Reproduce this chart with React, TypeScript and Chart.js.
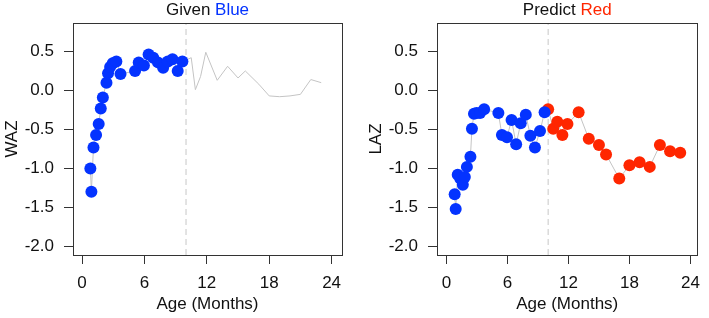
import React, { useEffect, useRef } from "react";
import { Chart, registerables } from "chart.js";

Chart.register(...registerables);

// ---- data ----
const blueMonths = [0.8, 0.9, 1.1, 1.35, 1.6, 1.8, 2.0, 2.35, 2.5, 2.7, 2.95, 3.3, 3.7, 5.1, 5.45, 5.95, 6.4, 6.85, 7.3, 7.8, 8.25, 8.7, 9.2, 9.65];
const wazGiven = [-1.0, -1.3, -0.73, -0.57, -0.43, -0.23, -0.09, 0.1, 0.22, 0.3, 0.35, 0.37, 0.21, 0.25, 0.36, 0.32, 0.46, 0.42, 0.36, 0.29, 0.37, 0.4, 0.25, 0.37];
const lazGiven = [-1.33, -1.52, -1.08, -1.13, -1.21, -1.11, -0.98, -0.85, -0.49, -0.3, -0.29, -0.29, -0.24, -0.29, -0.57, -0.6, -0.38, -0.69, -0.42, -0.31, -0.58, -0.73, -0.52, -0.28];
const predMonths = [10, 10.5, 10.9, 11.4, 11.9, 13, 14, 15, 15.7, 17, 18, 19, 20, 21, 22, 23];
const wazLater = [0.39, 0.42, 0.01, 0.18, 0.49, 0.13, 0.31, 0.16, 0.25, 0.08, -0.07, -0.08, -0.07, -0.05, 0.14, 0.1];
const lazPredicted = [-0.24, -0.49, -0.4, -0.57, -0.43, -0.28, -0.62, -0.7, -0.82, -1.13, -0.96, -0.92, -0.98, -0.7, -0.78, -0.8];
const cutoffMonth = 10;
const xTicks = [0, 6, 12, 18, 24];
const yTicks = [0.5, 0.0, -0.5, -1.0, -1.5, -2.0];
const Y_MIN = -2.11;
const Y_MAX = 0.865;

// ---- styles ----
const BLUE = "#0433FF";
const RED = "#FF2600";
const FONT = "'Liberation Sans', Arial, Helvetica, sans-serif";
const AXIS = "#333333";

Chart.defaults.font.family = FONT;
Chart.defaults.font.size = 17;
Chart.defaults.color = "#111111";

type PanelProps = {
  left: number;
  width: number;
  area: { l: number; r: number; t: number; b: number };
  xMin: number;
  xMax: number;
  yLabel: string;
  yTitlePad: number;
  titleA: string;
  titleB: string;
  titleColor: string;
  datasets: any[];
};

const H = 318;

function Panel(p: PanelProps) {
  const ref = useRef<HTMLCanvasElement | null>(null);
  useEffect(() => {
    if (!ref.current) return;
    const framePlugin = {
      id: "frameAndTitle",
      afterDraw(chart: any) {
        const { ctx, chartArea } = chart;
        ctx.save();
        ctx.strokeStyle = AXIS;
        ctx.lineWidth = 1;
        ctx.strokeRect(
          Math.round(chartArea.left) + 0.5,
          Math.round(chartArea.top) + 0.5,
          Math.round(chartArea.right - chartArea.left),
          Math.round(chartArea.bottom - chartArea.top)
        );
        ctx.font = `17px ${FONT}`;
        ctx.textBaseline = "alphabetic";
        const wa = ctx.measureText(p.titleA).width;
        const wb = ctx.measureText(p.titleB).width;
        const cx = (chartArea.left + chartArea.right) / 2;
        const sx = cx - (wa + wb) / 2;
        ctx.fillStyle = "#111111";
        ctx.fillText(p.titleA, sx, 15);
        ctx.fillStyle = p.titleColor;
        ctx.fillText(p.titleB, sx + wa, 15);
        ctx.restore();
      },
    };
    const chart = new Chart(ref.current, {
      type: "scatter",
      data: { datasets: p.datasets },
      options: {
        animation: false,
        responsive: false,
        events: [],
        layout: { padding: { top: p.area.t, right: p.width - p.area.r, left: 0, bottom: 0 } },
        plugins: { legend: { display: false }, tooltip: { enabled: false }, title: { display: false } },
        scales: {
          x: {
            type: "linear",
            min: p.xMin,
            max: p.xMax,
            afterFit: (s: any) => {
              s.height = H - p.area.b;
            },
            afterBuildTicks: (s: any) => {
              s.ticks = xTicks.map((v) => ({ value: v }));
            },
            grid: { drawOnChartArea: false, drawTicks: true, tickLength: 9, color: AXIS, lineWidth: 1 },
            border: { display: false },
            ticks: { padding: 9, color: "#111111", font: { size: 17 }, callback: (v: any) => String(v), maxRotation: 0 },
            title: { display: true, text: "Age (Months)", color: "#111111", font: { size: 17 }, padding: { top: 0, bottom: 3 } },
          },
          y: {
            type: "linear",
            min: Y_MIN,
            max: Y_MAX,
            afterFit: (s: any) => {
              s.width = p.area.l;
            },
            afterBuildTicks: (s: any) => {
              s.ticks = yTicks.map((v) => ({ value: v }));
            },
            grid: { drawOnChartArea: false, drawTicks: true, tickLength: 9, color: AXIS, lineWidth: 1 },
            border: { display: false },
            ticks: { padding: 10, color: "#111111", font: { size: 17 }, callback: (v: any) => Number(v).toFixed(1) },
            title: { display: true, text: p.yLabel, color: "#111111", font: { size: 17 }, padding: { top: p.yTitlePad, bottom: 0 } },
          },
        },
      },
      plugins: [framePlugin],
    });
    return () => chart.destroy();
  }, []);
  return (
    <div style={{ position: "absolute", left: p.left, top: 0, width: p.width, height: H }}>
      <canvas ref={ref} width={p.width} height={H} style={{ width: p.width, height: H, display: "block" }} />
    </div>
  );
}

const toPts = (xs: number[], ys: number[]) => xs.map((x, i) => ({ x, y: ys[i] }));

const cutoffDataset = {
  data: [
    { x: cutoffMonth, y: Y_MIN },
    { x: cutoffMonth, y: Y_MAX },
  ],
  showLine: true,
  borderColor: "#c8c8c8",
  borderWidth: 1,
  borderDash: [6, 4],
  pointRadius: 0,
  order: 3,
};

const lineStyle = { showLine: true, borderColor: "#c4c4c4", borderWidth: 1, pointRadius: 0, order: 2 };
const dotStyle = (c: string) => ({ showLine: false, pointRadius: 6, pointBackgroundColor: c, pointBorderWidth: 0, backgroundColor: c, borderColor: c, order: 1 });

export default function App() {
  const leftDatasets = [
    { ...dotStyle(BLUE), data: toPts(blueMonths, wazGiven) },
    { ...lineStyle, data: toPts([...blueMonths, ...predMonths], [...wazGiven, ...wazLater]) },
    cutoffDataset,
  ];
  const rightDatasets = [
    { ...dotStyle(BLUE), data: toPts(blueMonths, lazGiven) },
    { ...dotStyle(RED), data: toPts(predMonths, lazPredicted) },
    { ...lineStyle, data: toPts([...blueMonths, ...predMonths], [...lazGiven, ...lazPredicted]) },
    cutoffDataset,
  ];
  return (
    <div style={{ position: "absolute", left: 0, top: 0, width: 709, height: H, background: "#fff", overflow: "hidden" }}>
      <Panel
        left={0}
        width={360}
        area={{ l: 73, r: 342, t: 23, b: 255 }}
        xMin={-0.87}
        xMax={25.0}
        yLabel="WAZ"
        yTitlePad={2}
        titleA="Given "
        titleB="Blue"
        titleColor={BLUE}
        datasets={leftDatasets}
      />
      <Panel
        left={360}
        width={349}
        area={{ l: 77, r: 344, t: 23, b: 255 }}
        xMin={-0.94}
        xMax={24.7}
        yLabel="LAZ"
        yTitlePad={6}
        titleA="Predict "
        titleB="Red"
        titleColor={RED}
        datasets={rightDatasets}
      />
    </div>
  );
}
